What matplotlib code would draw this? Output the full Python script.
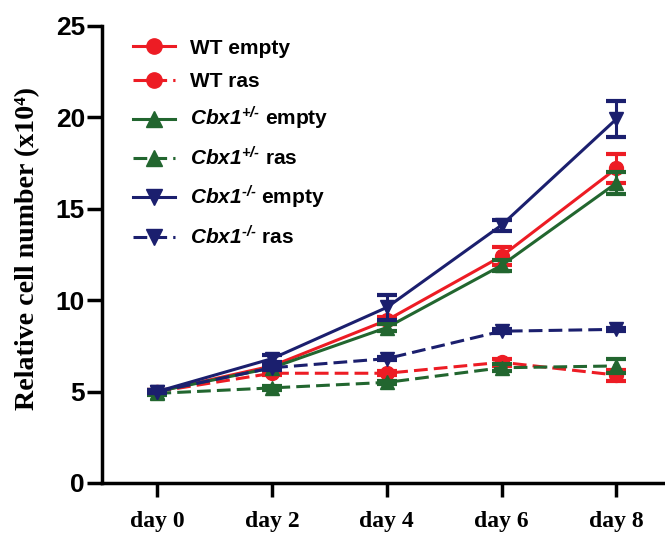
import numpy as np
import matplotlib
matplotlib.use("Agg")
import matplotlib.pyplot as plt

plt.rcParams['mathtext.fontset'] = 'custom'
plt.rcParams['mathtext.rm'] = 'Liberation Sans:italic:bold'
plt.rcParams['mathtext.it'] = 'Liberation Sans:italic:bold'
plt.rcParams['mathtext.bf'] = 'Liberation Sans:italic:bold'

days = [0, 2, 4, 6, 8]
day_labels = ['day 0', 'day 2', 'day 4', 'day 6', 'day 8']

# mean values (x10^4 cells)
wt_empty = [5.0, 6.4, 8.9, 12.4, 17.2]
wt_empty_err = [0.1, 0.1, 0.2, 0.5, 0.8]
wt_ras = [5.0, 6.0, 6.0, 6.6, 5.9]
wt_ras_err = [0.1, 0.1, 0.1, 0.2, 0.3]
het_empty = [5.0, 6.3, 8.5, 11.9, 16.4]
het_empty_err = [0.1, 0.1, 0.2, 0.3, 0.6]
het_ras = [4.9, 5.2, 5.5, 6.3, 6.4]
het_ras_err = [0.1, 0.1, 0.1, 0.2, 0.4]
ko_empty = [5.0, 6.8, 9.6, 14.1, 19.9]
ko_empty_err = [0.1, 0.2, 0.7, 0.3, 1.0]
ko_ras = [5.0, 6.3, 6.8, 8.3, 8.4]
ko_ras_err = [0.1, 0.1, 0.1, 0.1, 0.1]

red = '#ed1c24'
green = '#22662f'
navy = '#1b1f6e'
dash = (0, (4.5, 2.0))

series = [
    ('WT empty', wt_empty, wt_empty_err, red, 'o', '-'),
    ('WT ras', wt_ras, wt_ras_err, red, 'o', dash),
    (r'$\mathrm{Cbx1}^{+/\text{-}}$ empty', het_empty, het_empty_err, green, '^', '-'),
    (r'$\mathrm{Cbx1}^{+/\text{-}}$ ras', het_ras, het_ras_err, green, '^', dash),
    (r'$\mathrm{Cbx1}^{\text{-}/\text{-}}$ empty', ko_empty, ko_empty_err, navy, 'v', '-'),
    (r'$\mathrm{Cbx1}^{\text{-}/\text{-}}$ ras', ko_ras, ko_ras_err, navy, 'v', dash),
]

fig = plt.figure(figsize=(6.65, 5.39), dpi=100)
ax = fig.add_axes([0.153, 0.104, 0.86, 0.848])

for label, vals, err, col, mk, ls in series:
    ax.errorbar(days, vals, yerr=err, color=col, fmt='none', elinewidth=2.2,
                capsize=7, capthick=3)
    ax.plot(days, vals, color=col, marker=mk, markersize=10, linestyle=ls,
            linewidth=2.2, label=label)

ax.set_xlim(-0.97, 9.0)
ax.set_ylim(0, 25)
ax.set_xticks(days)
ax.set_xticklabels(day_labels, family=['Liberation Serif', 'DejaVu Serif'],
                   fontweight='bold', fontsize=17)
ax.set_yticks([0, 5, 10, 15, 20, 25])
ax.set_yticklabels(['0', '5', '10', '15', '20', '25'], family='Liberation Sans',
                   fontweight='bold', fontsize=19)
ax.tick_params(axis='x', length=10, width=2.5, pad=10)
ax.tick_params(axis='y', length=11, width=2.5, pad=1)
ax.spines['top'].set_visible(False)
ax.spines['right'].set_visible(False)
ax.spines['left'].set_linewidth(2.5)
ax.spines['bottom'].set_linewidth(2.5)
ax.spines['bottom'].set_bounds(-0.97, 9.5)

ax.set_ylabel('Relative cell number (x10⁴)', family=['Liberation Serif', 'DejaVu Serif'],
              fontweight='bold', fontsize=20.2)
ax.yaxis.set_label_coords(-0.107, 0.512)

leg = ax.legend(loc='upper left', bbox_to_anchor=(0.04, 0.99), frameon=False,
                prop={'family': 'Liberation Sans', 'weight': 'bold', 'size': 15},
                handlelength=2.0, labelspacing=0.68, handletextpad=0.75,
                borderaxespad=0, markerscale=1.1)

fig.savefig('out.png', dpi=100)
